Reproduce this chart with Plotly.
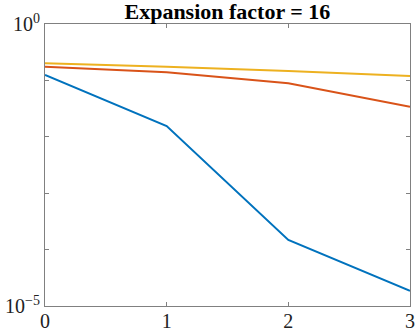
import plotly.graph_objects as go

x = [0, 1, 2, 3]
series_blue = [0.125, 0.0155, 0.000148, 0.0000186]
series_red = [0.175, 0.139, 0.089, 0.034]
series_yellow = [0.201, 0.175, 0.147, 0.120]
y_tickvals = [1e-5, 1e0]
y_ticktext = ["10<sup>−5</sup>", "10<sup>0</sup>"]
x_tickvals = [0, 1, 2, 3]

fig = go.Figure()
for ys, c in [(series_blue, "#0072BD"), (series_red, "#D95319"), (series_yellow, "#EDB120")]:
    fig.add_trace(go.Scatter(x=x, y=ys, mode="lines", line=dict(color=c, width=2), showlegend=False))

serif = "'Times New Roman', 'Liberation Serif', serif"
axis_common = dict(showgrid=False, zeroline=False, showline=True, linecolor="#808080", linewidth=1,
                   mirror="ticks", ticks="inside", ticklen=4, tickcolor="#808080", automargin=False,
                   tickfont=dict(family=serif, size=20, color="#222"))
fig.update_xaxes(range=[0, 3], tickvals=x_tickvals, ticklabeloverflow="allow",
                 ticklabelstandoff=-3, **axis_common)
fig.update_yaxes(type="log", range=[-5, 0], tickvals=y_tickvals, ticktext=y_ticktext,
                 minor=dict(ticks="inside", ticklen=4, tickcolor="#808080", dtick=1, showgrid=False),
                 **axis_common)

fig.update_layout(
    width=415, height=333,
    margin=dict(l=45, r=5, t=24, b=27, autoexpand=False),
    plot_bgcolor="white", paper_bgcolor="white",
    title=dict(text="<b>Expansion factor = 16</b>", x=0.548, xanchor="center", y=0.967, yanchor="middle",
               font=dict(family=serif, size=22, color="black")),
)
fig.write_html("out.html", config={"displayModeBar": False},
               post_script="document.body.style.margin='0';document.body.style.overflow='hidden';")
